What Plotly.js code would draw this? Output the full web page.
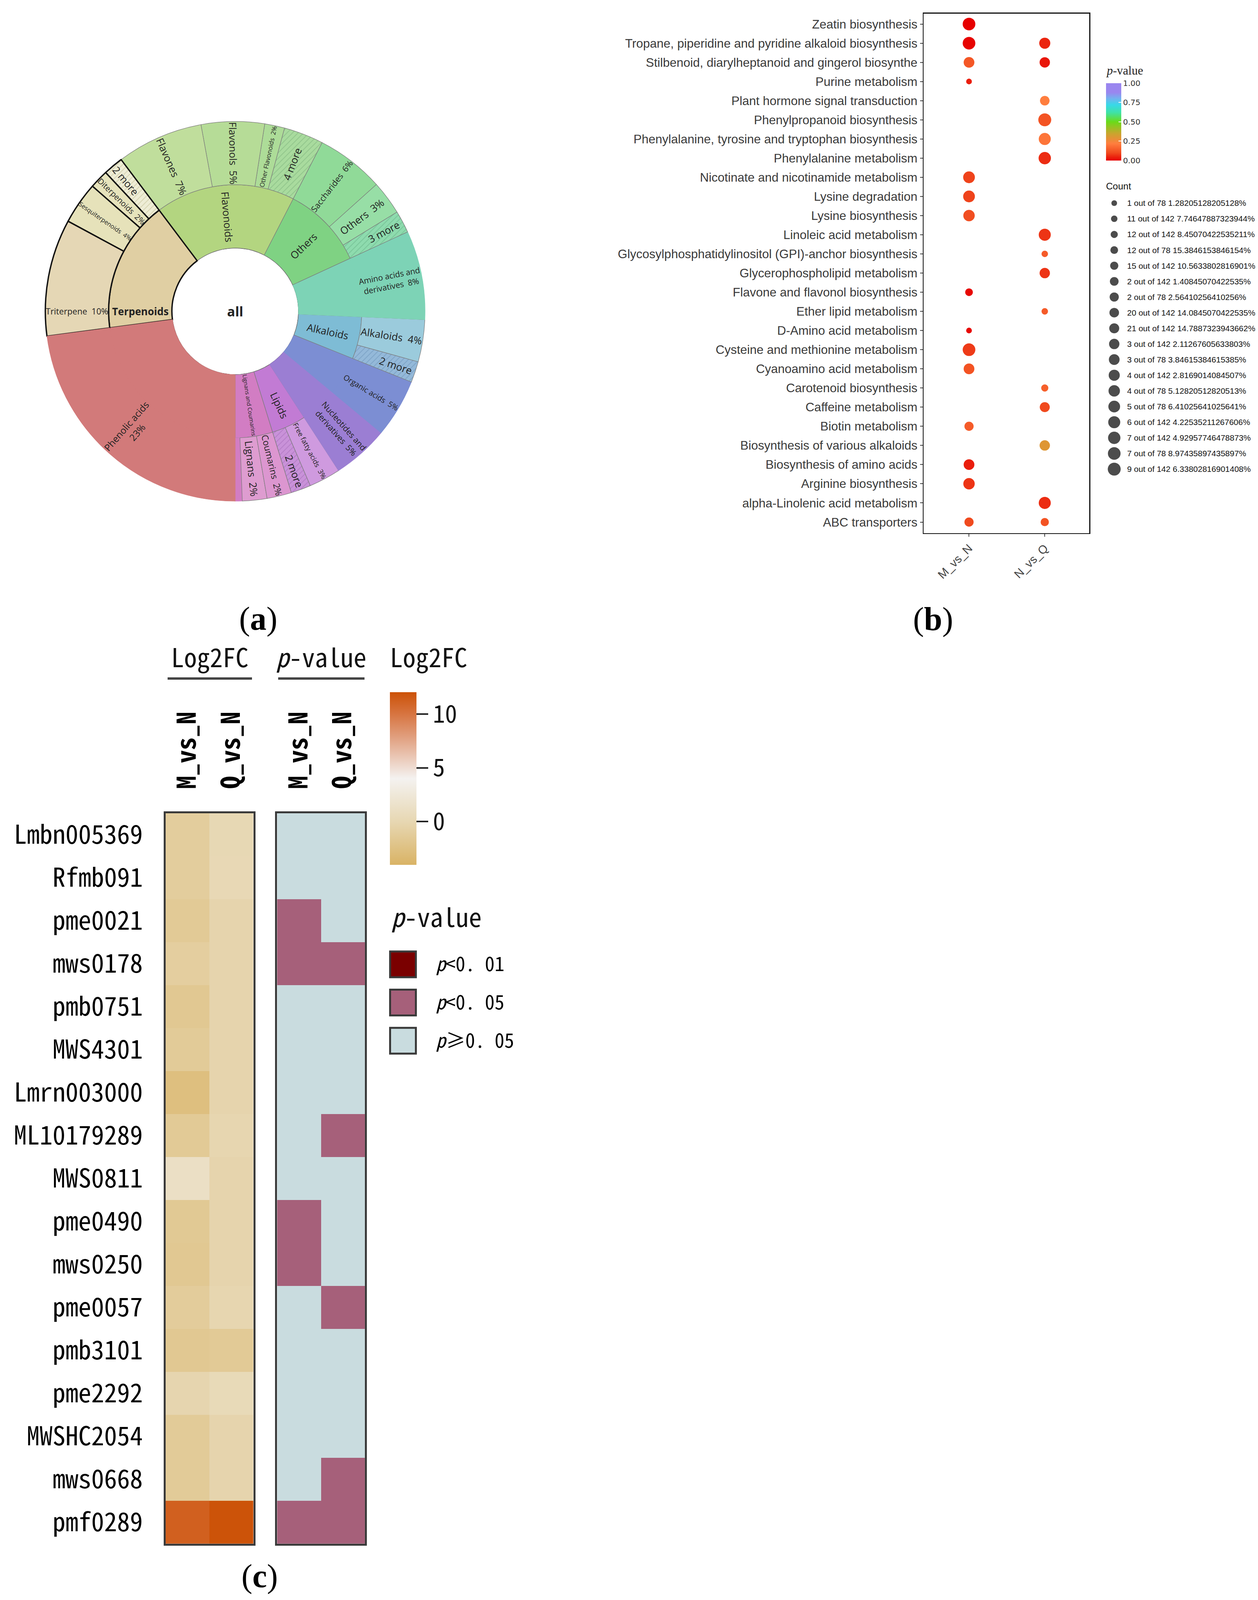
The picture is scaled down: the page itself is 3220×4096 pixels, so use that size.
<!DOCTYPE html>
<html><head><meta charset="utf-8">
<script src="https://cdn.plot.ly/plotly-3.0.1.min.js"></script>
<style>html,body{margin:0;padding:0;background:#fff;}#chart{width:3220px;height:4096px;}</style>
</head><body><div id="chart"></div>
<script>
// ================= DATA =================
// (a) class composition (share of metabolites, %), listed clockwise from 6 o'clock
const classNames = ['Phenolic acids','Terpenoids','Flavonoids','Others','Amino acids and derivatives','Alkaloids','Organic acids','Nucleotides and derivatives','Lipids','Lignans and Coumarins'];
const subNames  = ['Phenolic acids','Triterpene','Sesquiterpenoids','Diterpenoids','2 more','Flavones','Flavonols','Other Flavonoids','4 more','Saccharides','Others','3 more','Amino acids and derivatives','Alkaloids','2 more','Organic acids','Nucleotides and derivatives','Free fatty acids','2 more','Coumarins','Lignans',''];
const subClass  = ['Phenolic acids','Terpenoids','Terpenoids','Terpenoids','Terpenoids','Flavonoids','Flavonoids','Flavonoids','Flavonoids','Others','Others','Others','Amino acids and derivatives','Alkaloids','Alkaloids','Organic acids','Nucleotides and derivatives','Lipids','Lipids','Lignans and Coumarins','Lignans and Coumarins','Lignans and Coumarins'];
const subShare  = [23, 10, 3.6, 1.6, 1.7, 7.4, 5.4, 1.7, 3.4, 5.8, 2.9, 1.9, 7.6, 3.6, 1.8, 5.0, 4.8, 2.7, 1.7, 2.1, 2.1, 0.6];

// (b) KEGG enrichment dot plot
const pathways = ['Zeatin biosynthesis','Tropane, piperidine and pyridine alkaloid biosynthesis','Stilbenoid, diarylheptanoid and gingerol biosynthe','Purine metabolism','Plant hormone signal transduction','Phenylpropanoid biosynthesis','Phenylalanine, tyrosine and tryptophan biosynthesis','Phenylalanine metabolism','Nicotinate and nicotinamide metabolism','Lysine degradation','Lysine biosynthesis','Linoleic acid metabolism','Glycosylphosphatidylinositol (GPI)-anchor biosynthesis','Glycerophospholipid metabolism','Flavone and flavonol biosynthesis','Ether lipid metabolism','D-Amino acid metabolism','Cysteine and methionine metabolism','Cyanoamino acid metabolism','Carotenoid biosynthesis','Caffeine metabolism','Biotin metabolism','Biosynthesis of various alkaloids','Biosynthesis of amino acids','Arginine biosynthesis','alpha-Linolenic acid metabolism','ABC transporters'];
const comparisons = ['M_vs_N','N_vs_Q'];
const countLevels = ['1 out of 78 1.28205128205128%','11 out of 142 7.74647887323944%','12 out of 142 8.45070422535211%','12 out of 78 15.3846153846154%','15 out of 142 10.5633802816901%','2 out of 142 1.40845070422535%','2 out of 78 2.56410256410256%','20 out of 142 14.0845070422535%','21 out of 142 14.7887323943662%','3 out of 142 2.11267605633803%','3 out of 78 3.84615384615385%','4 out of 142 2.8169014084507%','4 out of 78 5.12820512820513%','5 out of 78 6.41025641025641%','6 out of 142 4.22535211267606%','7 out of 142 4.92957746478873%','7 out of 78 8.97435897435897%','9 out of 142 6.33802816901408%'];
const countMvN = ['7 out of 78','7 out of 78','3 out of 78','1 out of 78',null,null,null,null,'5 out of 78','5 out of 78','4 out of 78',null,null,null,'12 out of 78',null,'1 out of 78','7 out of 78','3 out of 78',null,null,'2 out of 78',null,'3 out of 78','4 out of 78',null,'2 out of 78'];
const pvalMvN  = [0.0,0.005,0.13,0.04,null,null,null,null,0.09,0.09,0.11,null,null,null,0.01,null,0.01,0.08,0.12,null,null,0.14,null,0.04,0.07,null,0.10];
const countNvQ = [null,'4 out of 142','3 out of 142',null,'20 out of 142','9 out of 142','6 out of 142','7 out of 142',null,null,null,'6 out of 142','11 out of 142','3 out of 142',null,'11 out of 142',null,null,null,'12 out of 142','21 out of 142',null,'3 out of 142',null,null,'6 out of 142','15 out of 142'];
const pvalNvQ  = [null,0.05,0.03,null,0.22,0.12,0.20,0.06,null,null,null,0.07,0.14,0.07,null,0.14,null,null,null,0.15,0.10,null,0.30,null,null,0.06,0.12];

// (c) heatmap
const metabolites = ['Lmbn005369','Rfmb091','pme0021','mws0178','pmb0751','MWS4301','Lmrn003000','ML10179289','MWS0811','pme0490','mws0250','pme0057','pmb3101','pme2292','MWSHC2054','mws0668','pmf0289'];
const contrasts = ['M_vs_N','Q_vs_N'];
const log2fcMvN = [-1.1,-1.1,-1.5,-1.0,-1.7,-1.4,-2.7,-1.5,1.2,-1.6,-1.7,-1.2,-1.7,-0.2,-1.4,-1.4,11.2];
const log2fcQvN = [0.1,0.2,-0.3,-0.3,-0.3,-0.3,-0.3,-0.1,-0.3,-0.3,-0.3,-0.1,-1.5,0.4,-0.3,-0.3,12.0];
const pLevels = ['p<0.01','p<0.05','p≥0.05'];
const pClassMvN = [2,2,1,1,2,2,2,2,2,1,1,2,2,2,2,2,1];
const pClassQvN = [2,2,2,1,2,2,2,1,2,2,2,1,2,2,2,1,1];

// ================= STYLE =================
const W = 3220, H = 4096;
const px = v => v / W, py = v => 1 - v / H;
const MONO = "'Noto Sans Mono CJK SC', 'DejaVu Sans Mono', monospace";
const SANS = "'Liberation Sans', Arial, sans-serif";
const SERIF = "'Liberation Serif', 'Times New Roman', serif";

const classFill = {'Phenolic acids':'#D27A7A','Terpenoids':'#E0CFA3','Flavonoids':'#B3D580','Others':'#7FD283','Amino acids and derivatives':'#7DD3B6','Alkaloids':'#7EBCD5','Organic acids':'#7C8ED3','Nucleotides and derivatives':'#9B7ED3','Lipids':'#C27BD4','Lignans and Coumarins':'#D27DC3'};
const subFill = {'Triterpene':'#E5D7B5','Sesquiterpenoids':'#E6E2BA','Diterpenoids':'#E6E3BC','Terpenoids|2 more':'#EEEDD6','Flavones':'#C0DE9C','Flavonols':'#B6DC97','Other Flavonoids':'#ADDC98','4 more':'#A9DB9E','Saccharides':'#90DA98','Others|Others':'#97DEA6','3 more':'#8EDBAE','Alkaloids|Alkaloids':'#9BCBDC','Alkaloids|2 more':'#94B9D9','Free fatty acids':'#CF9ADF','Lipids|2 more':'#C992D9','Coumarins':'#DC96D0','Lignans':'#DE9CD0'};
const hatchFg = {'Terpenoids':'#BDB98A','Flavonoids':'#77AE78','Others':'#62B084','Alkaloids':'#6790B5','Lipids':'#A268B5'};
const wrapLabel = {'Amino acids and derivatives':'Amino acids and<br>derivatives', 'Nucleotides and derivatives':'Nucleotides and<br>derivatives', 'Phenolic acids':'Phenolic acids<br>'};

// ================= (a) sunburst build =================
// plotly lays sectors counter-clockwise, so feed them in reverse to get the clockwise order
const total = subShare.reduce((a,b)=>a+b,0);
const isExt = c => { const ch = subNames.filter((n,i)=>subClass[i]===c); return ch.length===1 && ch[0]===c; };
const ids=['all'], labels=['all'], parents=[''], values=[total], tmpl=['<b>all</b>'];
const fills=['#FFFFFF'], lcol=['#333333'], lwid=[1.5], pshape=[''], pfg=['#000'], tsize=[34];
classNames.slice().reverse().forEach(c=>{
  const v = subShare.reduce((s,x,i)=> subClass[i]===c ? s+x : s, 0);
  ids.push(c); labels.push(c); parents.push('all'); values.push(v);
  tmpl.push(isExt(c) ? '' : (c==='Terpenoids' ? '<b>%{label}</b>' : '%{label}'));
  fills.push(classFill[c]); tsize.push(26);
  if (c==='Terpenoids'){ lcol.push('#111111'); lwid.push(3.5); }
  else if (isExt(c)){ lcol.push(classFill[c]); lwid.push(1.2); }
  else { lcol.push('#7a7a7a'); lwid.push(1.2); }
  pshape.push(''); pfg.push('#000');
});
subNames.map((n,i)=>i).reverse().forEach(i=>{
  const n = subNames[i], c = subClass[i];
  ids.push(c+'|'+i); labels.push(n); parents.push(c); values.push(subShare[i]);
  const more = n.indexOf('more')>=0;
  const shown = wrapLabel[n] || '%{label}';
  tmpl.push(n==='' ? '' : (more ? '%{label}' : shown + '  %{percentRoot:.0%}'));
  let f = subFill[c+'|'+n] || subFill[n];
  if (n==='' || isExt(c)) f = classFill[c];
  fills.push(f); tsize.push(n==='Phenolic acids' ? 30 : 26);
  if (c==='Terpenoids'){ lcol.push('#111111'); lwid.push(3.5); }
  else if (isExt(c) || n===''){ lcol.push(f); lwid.push(1.2); }
  else { lcol.push('#7a7a7a'); lwid.push(1.2); }
  pshape.push(more ? '/' : ''); pfg.push(more ? hatchFg[c] : '#000');
});

const sunburst = {
  type:'sunburst', ids, labels, parents, values, branchvalues:'total', sort:false,
  rotation:-90, texttemplate:tmpl, insidetextorientation:'radial',
  textfont:{family:"'Open Sans', 'DejaVu Sans', sans-serif", size:tsize, color:'#222'},
  marker:{colors:fills, line:{color:lcol, width:lwid}, pattern:{shape:pshape, fgcolor:pfg, fillmode:'overlay', fgopacity:0.5, size:10, solidity:0.2}},
  leaf:{opacity:1}, hoverinfo:'skip',
  domain:{x:[px(116), px(1088)], y:[py(1283), py(311)]}
};

// ================= (b) dot plot =================
const levelSize = k => 1 + 0.973*(4.5 + 4.75*Math.sqrt(4 + 32*k/(countLevels.length-1)));
const levelOf = s => countLevels.findIndex(l => l.startsWith(s+' '));
const dx=[], dy=[], ds=[], dc=[];
[[countMvN,pvalMvN],[countNvQ,pvalNvQ]].forEach(([cnt,pv],j)=>{
  pathways.forEach((p,i)=>{ if (cnt[i]!==null){ dx.push(comparisons[j]); dy.push(p); ds.push(levelSize(levelOf(cnt[i]))); dc.push(pv[i]); } });
});
const pScale = [[0,'#E60000'],[0.1,'#F04A1E'],[0.22,'#FF7E3E'],[0.35,'#C9A52E'],[0.5,'#6ADB18'],[0.62,'#3FE2A6'],[0.72,'#38D9E8'],[0.8,'#72B3EF'],[0.88,'#9A86EF'],[1,'#9A86EF']];
const dots = {
  type:'scatter', mode:'markers', x:dx, y:dy, xaxis:'x', yaxis:'y', hoverinfo:'skip', cliponaxis:false,
  marker:{size:ds, sizemode:'diameter', color:dc, colorscale:pScale, cmin:0, cmax:1, opacity:1, line:{width:0},
    colorbar:{x:px(2831), xanchor:'left', xpad:0, y:py(311.6), yanchor:'middle', ypad:0, len:198, lenmode:'pixels', thickness:39, outlinewidth:0,
      tickvals:[0,0.25,0.5,0.75,1], ticktext:['0.00','0.25','0.50','0.75','1.00'], ticks:'inside', ticklen:7, tickwidth:2, tickcolor:'#ffffff',
      tickfont:{family:"'DejaVu Sans', sans-serif", size:20, color:'#333'}}}
};
const countLegend = {
  type:'scatter', mode:'markers', x:countLevels.map(()=>0), y:countLevels, xaxis:'x2', yaxis:'y2', hoverinfo:'skip', cliponaxis:false,
  marker:{size:countLevels.map((l,k)=>levelSize(k)), color:'#000', line:{width:0}}
};

// ================= (c) heatmaps =================
const fcScale = [[0,'#D9B365'],[0.25,'#E7D7B2'],[0.5,'#F4F2F0'],[0.75,'#E09C7A'],[0.875,'#D77440'],[1,'#CC5208']];
const pColors = ['#7A0000','#A6607A','#C9DCDF'];
const pScaleC = [[0,pColors[0]],[0.25,pColors[0]],[0.25,pColors[1]],[0.75,pColors[1]],[0.75,pColors[2]],[1,pColors[2]]];
const heatFC = {
  type:'heatmap', x:contrasts, y:metabolites, z:metabolites.map((m,i)=>[log2fcMvN[i], log2fcQvN[i]]),
  xaxis:'x3', yaxis:'y3', zmin:-4.04, zmax:12.04, colorscale:fcScale, hoverinfo:'skip',
  colorbar:{x:px(998), xanchor:'left', xpad:0, y:py(1993), yanchor:'middle', ypad:0, len:442, lenmode:'pixels', thickness:68, outlinewidth:0,
    tickvals:[0,5,10], ticks:'outside', ticklen:30, tickwidth:4, tickcolor:'#222', tickfont:{family:MONO, size:62, color:'#111'}}
};
const heatP = {
  type:'heatmap', x:contrasts, y:metabolites, z:metabolites.map((m,i)=>[pClassMvN[i], pClassQvN[i]]),
  xaxis:'x4', yaxis:'y4', zmin:0, zmax:2, colorscale:pScaleC, showscale:false, hoverinfo:'skip'
};
const pLegend = {
  type:'scatter', mode:'markers', x:pLevels.map(()=>0), y:pLevels, xaxis:'x5', yaxis:'y5', hoverinfo:'skip', cliponaxis:false,
  marker:{symbol:'square', size:66, color:pColors, line:{color:'#3a3a3a', width:5}}
};
const pLabel = s => s.replace('<','&lt;').replace('p','<i>p</i>').replace('0.','0. ');

// ================= LAYOUT =================
const hidden = {visible:false, showgrid:false, zeroline:false};
const heatX = dom => ({domain:dom, type:'category', side:'top', tickangle:-90, ticks:'', showgrid:false, zeroline:false,
  showline:true, mirror:true, linecolor:'#3a3a3a', linewidth:5, ticklabelstandoff:44,
  tickfont:{family:MONO, size:66, color:'#000', weight:'bold'}});
const ann = (text, x, y, font, xanchor) => ({text, x:px(x), y:py(y), xref:'paper', yref:'paper', showarrow:false,
  xanchor:xanchor||'center', yanchor:'middle', font});
const layout = {
  width:W, height:H, margin:{l:0,r:0,t:0,b:0}, paper_bgcolor:'#fff', plot_bgcolor:'#fff', showlegend:false,
  xaxis:{domain:[px(2364), px(2788)], anchor:'y', type:'category', categoryarray:comparisons, range:[-0.6,1.587],
    showline:true, mirror:true, linecolor:'#111', linewidth:2.5, ticks:'outside', ticklen:7, tickcolor:'#444', tickwidth:2,
    tickangle:-45, tickfont:{family:SANS, size:30, color:'#444'}, showgrid:false, zeroline:false},
  yaxis:{domain:[py(1364.6), py(34.6)], anchor:'x', type:'category', categoryarray:pathways, range:[26.573,-0.55],
    showline:true, mirror:true, linecolor:'#111', linewidth:2.5, ticks:'outside', ticklen:7, tickcolor:'#444', tickwidth:2,
    tickfont:{family:SANS, size:31.5, color:'#3a3a3a'}, showgrid:false, zeroline:false},
  xaxis2:Object.assign({domain:[px(2830), px(2874)], anchor:'y2', range:[-1,1]}, hidden),
  yaxis2:{domain:[py(1221), py(500)], anchor:'x2', side:'right', type:'category', categoryarray:countLevels, range:[17.5,-0.5],
    showline:false, ticks:'', showgrid:false, zeroline:false, ticklabelstandoff:10, tickfont:{family:SANS, size:21, color:'#111'}},
  xaxis3:Object.assign(heatX([px(423.8), px(648.5)]), {anchor:'y3', categoryarray:contrasts}),
  yaxis3:{domain:[py(3952), py(2081.7)], anchor:'x3', type:'category', categoryarray:metabolites, autorange:'reversed',
    showline:true, mirror:true, linecolor:'#3a3a3a', linewidth:5, ticks:'', showgrid:false, zeroline:false,
    ticklabelstandoff:40, tickfont:{family:MONO, size:66, color:'#000'}},
  xaxis4:Object.assign(heatX([px(709.3), px(933.9)]), {anchor:'y4', categoryarray:contrasts}),
  yaxis4:{domain:[py(3952), py(2081.7)], anchor:'x4', type:'category', categoryarray:metabolites, autorange:'reversed',
    showline:true, mirror:true, linecolor:'#3a3a3a', linewidth:5, ticks:'', showticklabels:false, showgrid:false, zeroline:false},
  xaxis5:Object.assign({domain:[px(996), px(1067)], anchor:'y5', range:[-1,1]}, hidden),
  yaxis5:{domain:[py(2713), py(2420)], anchor:'x5', side:'right', type:'category', categoryarray:pLevels, range:[2.5,-0.5],
    tickvals:pLevels, ticktext:pLevels.map(pLabel),
    showline:false, ticks:'', showgrid:false, zeroline:false, ticklabelstandoff:48, tickfont:{family:MONO, size:50, color:'#000'}},
  shapes:[
    {type:'line', xref:'paper', yref:'paper', x0:px(429), x1:px(645), y0:py(1737), y1:py(1737), line:{color:'#444', width:6}},
    {type:'line', xref:'paper', yref:'paper', x0:px(712), x1:px(933), y0:py(1737), y1:py(1737), line:{color:'#444', width:6}}
  ],
  annotations:[
    ann('(<b>a</b>)', 661, 1584, {family:SERIF, size:84, color:'#000'}),
    ann('(<b>b</b>)', 2388, 1585, {family:SERIF, size:84, color:'#000'}),
    ann('(<b>c</b>)', 664, 4035, {family:SERIF, size:84, color:'#000'}),
    ann('<i>p</i>-value', 2829, 180, {family:SERIF, size:31, color:'#222'}, 'left'),
    ann('Count', 2829, 476, {family:SANS, size:24, color:'#111'}, 'left'),
    ann('Log2FC', 537, 1679, {family:MONO, size:66, color:'#111'}),
    ann('<i>p</i>-value', 822, 1679, {family:MONO, size:66, color:'#111'}),
    ann('Log2FC', 1097, 1679, {family:MONO, size:66, color:'#111'}),
    ann('<i>p</i>-value', 1000, 2344, {family:MONO, size:66, color:'#111'}, 'left')
  ]
};
Plotly.newPlot('chart', [sunburst, dots, countLegend, heatFC, heatP, pLegend], layout, {displayModeBar:false, staticPlot:true});
</script></body></html>
